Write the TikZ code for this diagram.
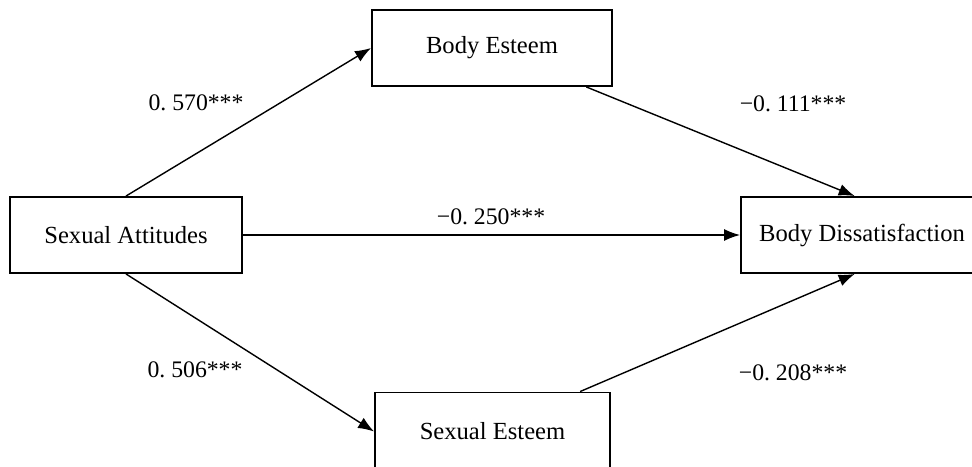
\documentclass[tikz,border=0pt]{standalone}
\usepackage{fontspec}
\setmainfont{Liberation Serif}
\usetikzlibrary{positioning, arrows.meta, calc}

\tikzset{
  varbox/.style={draw, line width=1.1pt, minimum height=1.52cm, inner sep=0pt,
    font=\fontsize{14}{17}\selectfont},
  path/.style={line width=0.8pt, -{Latex[length=3.2mm, width=2.4mm]}},
  coef/.style={font=\fontsize{13.5}{16}\selectfont}
}

\begin{document}
\begin{tikzpicture}[x=0.02cm, y=-0.02cm]
\useasboundingbox (0,0) rectangle (972,466);
\clip (0,0) rectangle (972,466);

% Variables
\node[varbox, minimum width=4.64cm] (SA) at (126,235) {Sexual Attitudes};
\node[varbox, minimum width=4.80cm] (BE) at (492,48) {Body Esteem};
\node[varbox, minimum width=4.70cm, minimum height=1.56cm] (SE) at (492.5,431.5) {Sexual Esteem};
\node[varbox, minimum width=4.84cm] (BD) at (862,235) {Body Dissatisfaction};

% Paths
\draw[path] (SA.north) -- (BE.west);
\draw[path] (SA.south) -- (SE.west);
\draw[path] (SA.east) -- (BD.west);
\draw[path] ($(BE.south west)!0.89!(BE.south east)$) -- ($(BD.north west)!0.47!(BD.north east)$);
\draw[path] ($(SE.north west)!0.87!(SE.north east)$) -- ($(BD.south west)!0.47!(BD.south east)$);

% Coefficients
\node[coef] (cBE) at (196,103) {0.\ 570***};
\node[coef] (cSE) at (195,370) {0.\ 506***};
\node[coef] (cBD) at (491,217) {−0.\ 250***};
\node[coef] (cBEBD) at (793,104) {−0.\ 111***};
\node[coef] (cSEBD) at (793,373) {−0.\ 208***};
\end{tikzpicture}
\end{document}
